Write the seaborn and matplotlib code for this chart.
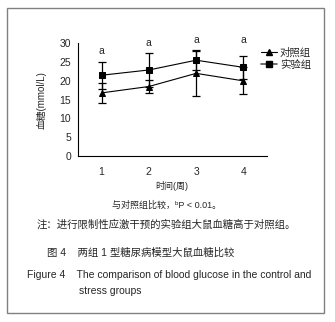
import seaborn as sns
import matplotlib.pyplot as plt
import matplotlib.patches as mpatches
from matplotlib.lines import Line2D
import numpy as np
import pandas as pd

weeks = [1, 2, 3, 4]
week_labels = ["1", "2", "3", "4"]
control = [16.8, 18.5, 22.0, 20.0]
control_sd = [2.7, 1.6, 6.0, 3.6]
stress = [21.5, 22.9, 25.5, 23.6]
stress_sd = [3.6, 4.6, 2.6, 3.1]
sig_labels = ["a", "a", "a", "a"]
sig_y = [26.6, 28.8, 29.6, 29.6]
groups = ["对照组", "实验组"]

sns.set_theme(style="white")
plt.rcParams['font.family'] = ['Liberation Sans', 'Noto Sans CJK SC', 'DejaVu Sans']

df = pd.DataFrame({
    "周": weeks * 2,
    "血糖": control + stress,
    "组": [groups[0]] * 4 + [groups[1]] * 4,
})

W, H = 335, 322
fig = plt.figure(figsize=(W / 100, H / 100), dpi=100)
ax = fig.add_axes([78 / W, 1 - 156 / H, (267 - 78) / W, (156 - 43.3) / H])

# error bars first, lines on top
ax.errorbar(weeks, control, yerr=control_sd, fmt="none", ecolor="black",
            elinewidth=0.9, capsize=3, capthick=0.9, zorder=2)
ax.errorbar(weeks, stress, yerr=stress_sd, fmt="none", ecolor="black",
            elinewidth=0.9, capsize=3, capthick=0.9, zorder=2)

sns.lineplot(data=df, x="周", y="血糖", hue="组", style="组",
             palette=["black", "black"], markers={"对照组": "^", "实验组": "s"},
             dashes=False, markersize=5, linewidth=0.8, markeredgecolor="black",
             legend=False, ax=ax, zorder=3)

for x, s, y in zip(weeks, sig_labels, sig_y):
    ax.text(x, y, s, ha="center", va="bottom", fontsize=7.5)

ax.set_xlim(0.5, 4.5)
ax.set_ylim(0, 30)
ax.set_yticks([0, 5, 10, 15, 20, 25, 30])
ax.set_xticks([1.5, 2.5, 3.5, 4.5])
ax.set_xticklabels([])
ax.set_xticks(weeks, minor=True)
ax.set_xticklabels(week_labels, minor=True)
ax.tick_params(axis="x", which="major", direction="out", length=3, width=0.8, color="black")
ax.tick_params(axis="x", which="minor", length=0, pad=8, labelsize=7.5)
ax.tick_params(axis="y", direction="out", length=3, width=0.8, color="black", labelsize=7.5, pad=2)
for side in ["top", "right"]:
    ax.spines[side].set_visible(False)
for side in ["left", "bottom"]:
    ax.spines[side].set_color("black")
    ax.spines[side].set_linewidth(0.8)
ax.set_xlabel("")
ax.set_ylabel("血糖(mmol/L)", fontsize=7, labelpad=9)

handles = [Line2D([], [], color="black", marker="^", markersize=5, linewidth=0.8),
           Line2D([], [], color="#555555", marker="s", markersize=5, linewidth=1.2,
                  markerfacecolor="black", markeredgecolor="black")]
fig.legend(handles, groups, loc="upper left", bbox_to_anchor=(257 / W, 1 - 43 / H),
           frameon=False, fontsize=7.5, handlelength=1.5, handletextpad=0.3,
           labelspacing=0.2, borderaxespad=0)

def ftext(x, y, s, **kw):
    fig.text(x / W, 1 - y / H, s, va="center", **kw)

ftext(172, 186, "时间(周)", ha="center", fontsize=6.5)
ftext(167, 205, "与对照组比较，ᵇP < 0.01。", ha="center", fontsize=6.5)
ftext(166, 224, "注：进行限制性应激干预的实验组大鼠血糖高于对照组。", ha="center", fontsize=7.5)
ftext(47, 253, "图 4    两组 1 型糖尿病模型大鼠血糖比较", ha="left", fontsize=7.5)
ftext(27, 275, "Figure 4    The comparison of blood glucose in the control and", ha="left", fontsize=7.5)
ftext(79, 291, "stress groups", ha="left", fontsize=7.5)

fig.patches.append(mpatches.Rectangle((7 / W, 1 - 313 / H), (324 - 7) / W, (313 - 8) / H,
                                      transform=fig.transFigure, fill=False,
                                      edgecolor="#808080", linewidth=1))

fig.savefig("out.png", dpi=100)
